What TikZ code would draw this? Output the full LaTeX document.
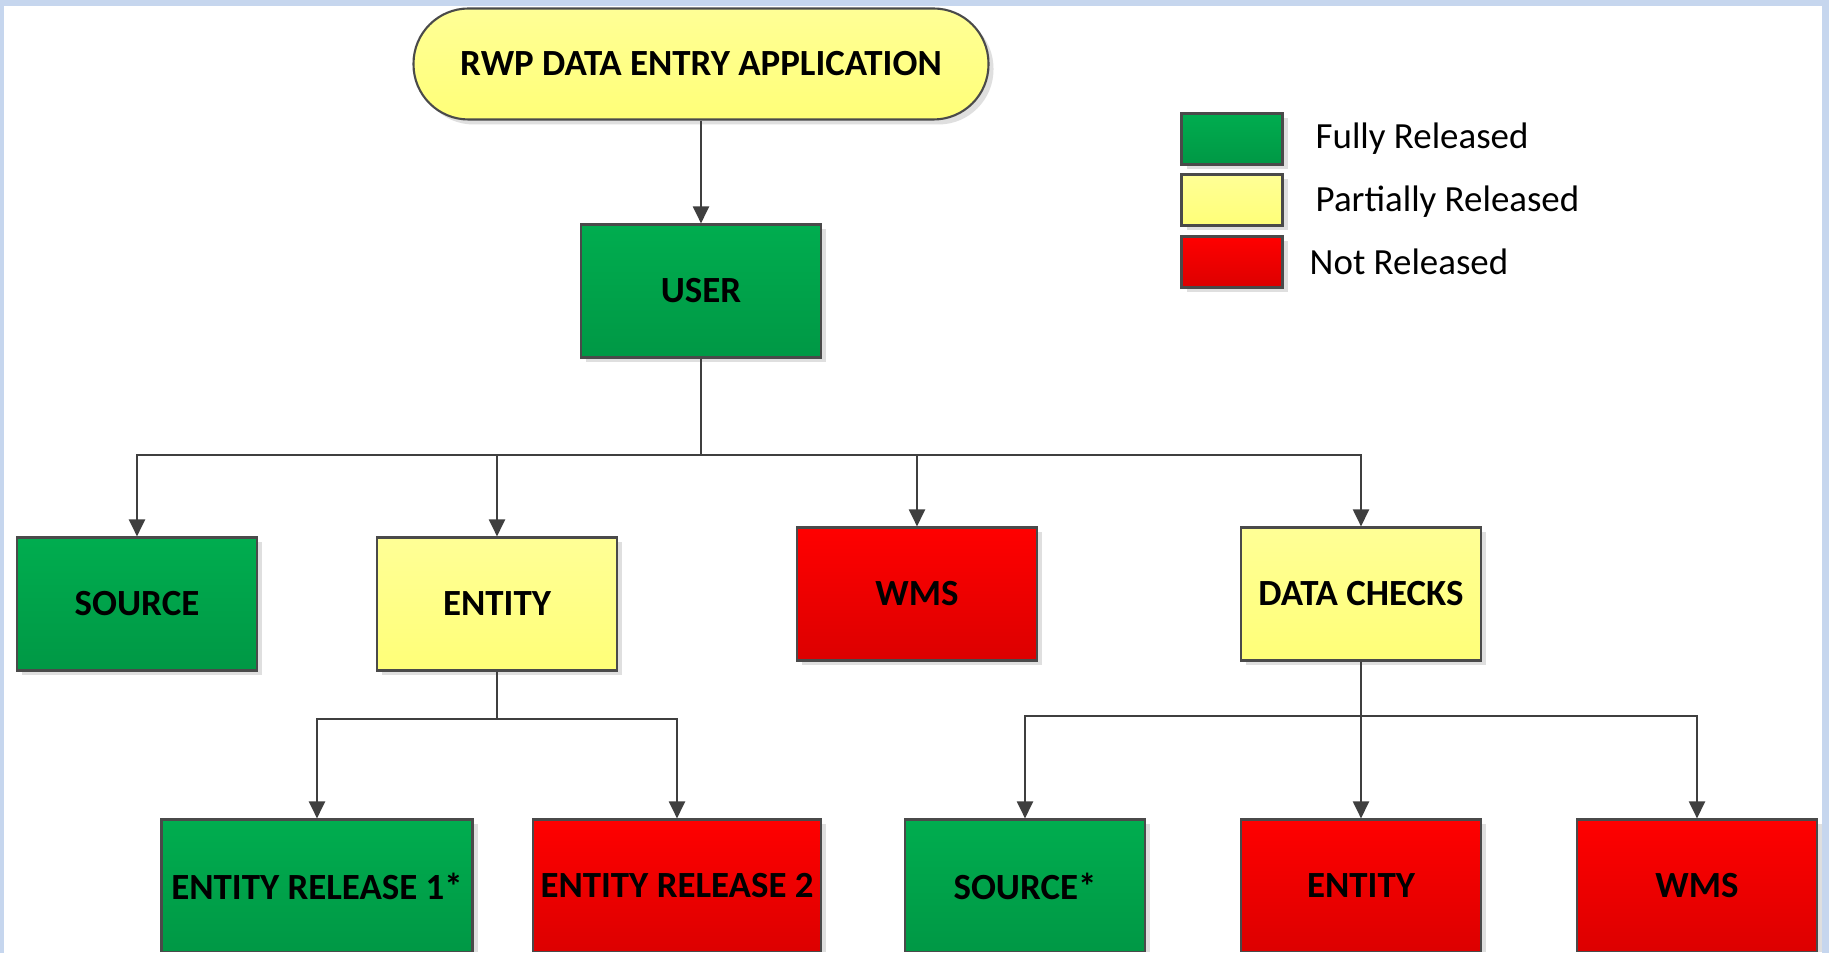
\documentclass[tikz,border=0pt]{standalone}
\usepackage{fontspec}
\setmainfont{Carlito}
\usetikzlibrary{arrows.meta,shadows}

\definecolor{framebl}{HTML}{C6D6EE}
\definecolor{gtop}{HTML}{00AD4F}
\definecolor{gbot}{HTML}{009845}
\definecolor{ytop}{HTML}{FFFF96}
\definecolor{ybot}{HTML}{FFFF78}
\definecolor{rtop}{HTML}{FF0000}
\definecolor{rbot}{HTML}{DC0000}
\definecolor{edgegray}{HTML}{4A4A4A}
\definecolor{linegray}{HTML}{3F3F3F}

\begin{document}
\begin{tikzpicture}[x=0.1mm, y=-0.1mm,
	box/.style={draw=edgegray, line width=0.6pt, minimum width=24mm, minimum height=13.3mm,
		inner sep=0pt, font=\fontsize{10.5}{12}\selectfont\bfseries,
		drop shadow={shadow xshift=0.5mm, shadow yshift=-0.5mm, opacity=0.25}},
	full/.style={box, top color=gtop, bottom color=gbot},
	part/.style={box, top color=ytop, bottom color=ybot},
	none/.style={box, top color=rtop, bottom color=rbot},
	link/.style={draw=linegray, line width=0.6pt, -{Triangle[length=1.7mm, width=1.6mm]}}]
	\useasboundingbox (0,0) rectangle (1829,953);
	\fill[framebl] (0,0) rectangle (1829,953);
	\fill[white] (4,6) rectangle (1822,960);
	\clip (4,6) rectangle (1822,951.5);

	% top of the tree
	\node[part, minimum width=57.5mm, minimum height=11.1mm, rounded corners=5.5mm] (app) at (701,64) {RWP DATA ENTRY APPLICATION};
	\node[full] (user) at (701,291) {USER};

	\node[full] (src) at (137,604) {SOURCE};
	\node[part] (ent) at (497,604) {ENTITY};
	\node[none] (wms) at (917,594) {WMS};
	\node[part] (chk) at (1361,594) {DATA CHECKS};

	% bottom row, cut by the frame
	\node[full, minimum width=31.1mm] (rel1) at (317,886) {ENTITY RELEASE 1*};
	\node[none, minimum width=28.8mm] (rel2) at (677,886) {ENTITY RELEASE 2};
	\node[full] (csrc) at (1025,886) {SOURCE*};
	\node[none] (cent) at (1361,886) {ENTITY};
	\node[none] (cwms) at (1697,886) {WMS};

	\coordinate (userbus) at (701,455);
	\coordinate (entbus) at (497,719);
	\coordinate (chkbus) at (1361,716);

	\draw[link] (app) -- (user);
	\foreach \kid in {src,ent,wms,chk}
		\draw[link] (user.south) -- (userbus) -| (\kid.north);
	\foreach \kid in {rel1,rel2}
		\draw[link] (ent.south) -- (entbus) -| (\kid.north);
	\foreach \kid in {csrc,cent,cwms}
		\draw[link] (chk.south) -- (chkbus) -| (\kid.north);

	% legend
	\foreach \y/\tc/\bc/\tx/\ty/\lab in {139/gtop/gbot/1315/139/Fully Released, 200/ytop/ybot/1315/202/Partially Released, 262/rtop/rbot/1309/262/Not Released}
	{
		\node[box, top color=\tc, bottom color=\bc, minimum width=10.1mm, minimum height=5.1mm] (key\y) at (1232,\y) {};
		\node[anchor=west, inner sep=0pt, font=\fontsize{10.5}{12}\selectfont] (lab\y) at (\tx,\ty) {\lab};
	}
\end{tikzpicture}
\end{document}
